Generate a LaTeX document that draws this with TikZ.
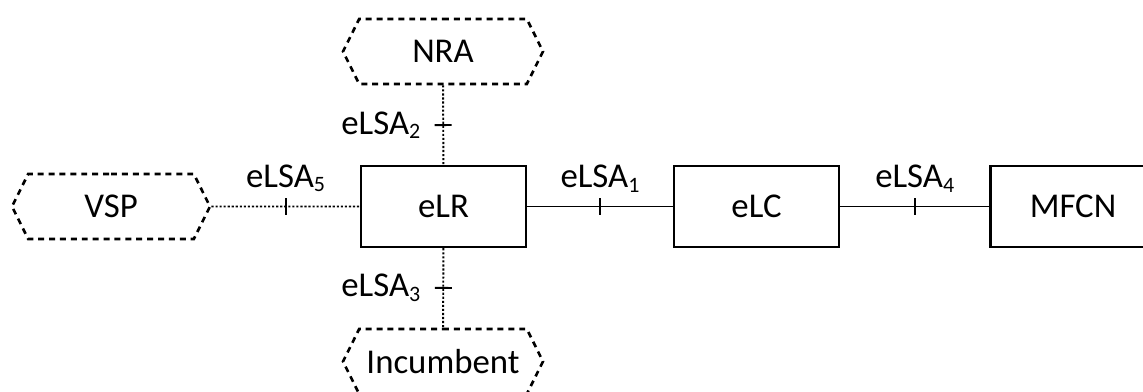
\documentclass[tikz,border=0pt]{standalone}
\usepackage{fontspec}
\setmainfont{Carlito}
\usetikzlibrary{shapes.symbols,decorations.markings}
\newcommand{\lsub}[1]{\raisebox{-0.28ex}{\fontsize{12.5}{14}\selectfont #1}}
\tikzset{
  block/.style={draw,line width=1.4pt,minimum width=3.3cm,minimum height=1.62cm,inner sep=0pt},
  party/.style={signal,signal to=west and east,signal pointer angle=127,draw,line width=1.5pt,
    dash pattern=on 3.4pt off 2.8pt,minimum width=4cm,minimum height=1.3cm,inner sep=0pt},
  iface/.style={line width=1.1pt,postaction={decorate},
    decoration={markings,mark=at position 0.5 with {\draw[solid] (0,-0.17) -- (0,0.17);}}},
  ifacedot/.style={iface,dash pattern=on 1.2pt off 1.1pt},
  lsa/.style={inner sep=0pt}
}

\begin{document}
\begin{tikzpicture}[font=\fontsize{19.8}{24}\selectfont]
\useasboundingbox (0,0) rectangle (22.86,7.82);
\clip (0,0) rectangle (22.86,7.82);
\node[block] (eLR) at (8.87,3.69) {eLR};
\node[block] (eLC) at (15.13,3.69) {eLC};
\node[block] (MFCN) at (21.46,3.69) {MFCN};
\node[party,minimum width=3.96cm] (VSP) at (2.22,3.69) {VSP};
\node[party] (NRA) at (8.86,6.79) {NRA};
\node[party] (Inc) at (8.86,0.59) {Incumbent};
\path
(eLR) edge[iface] node[lsa,above=0.27cm] {eLSA\lsub{1}} (eLC)
(eLC) edge[iface] node[lsa,above=0.27cm] {eLSA\lsub{4}} (MFCN)
(VSP) edge[ifacedot] node[lsa,above=0.27cm] {eLSA\lsub{5}} (eLR)
(NRA) edge[ifacedot] node[lsa,left=0.44cm] {eLSA\lsub{2}} (eLR)
(eLR) edge[ifacedot] node[lsa,left=0.44cm] {eLSA\lsub{3}} (Inc);
\end{tikzpicture}
\end{document}
